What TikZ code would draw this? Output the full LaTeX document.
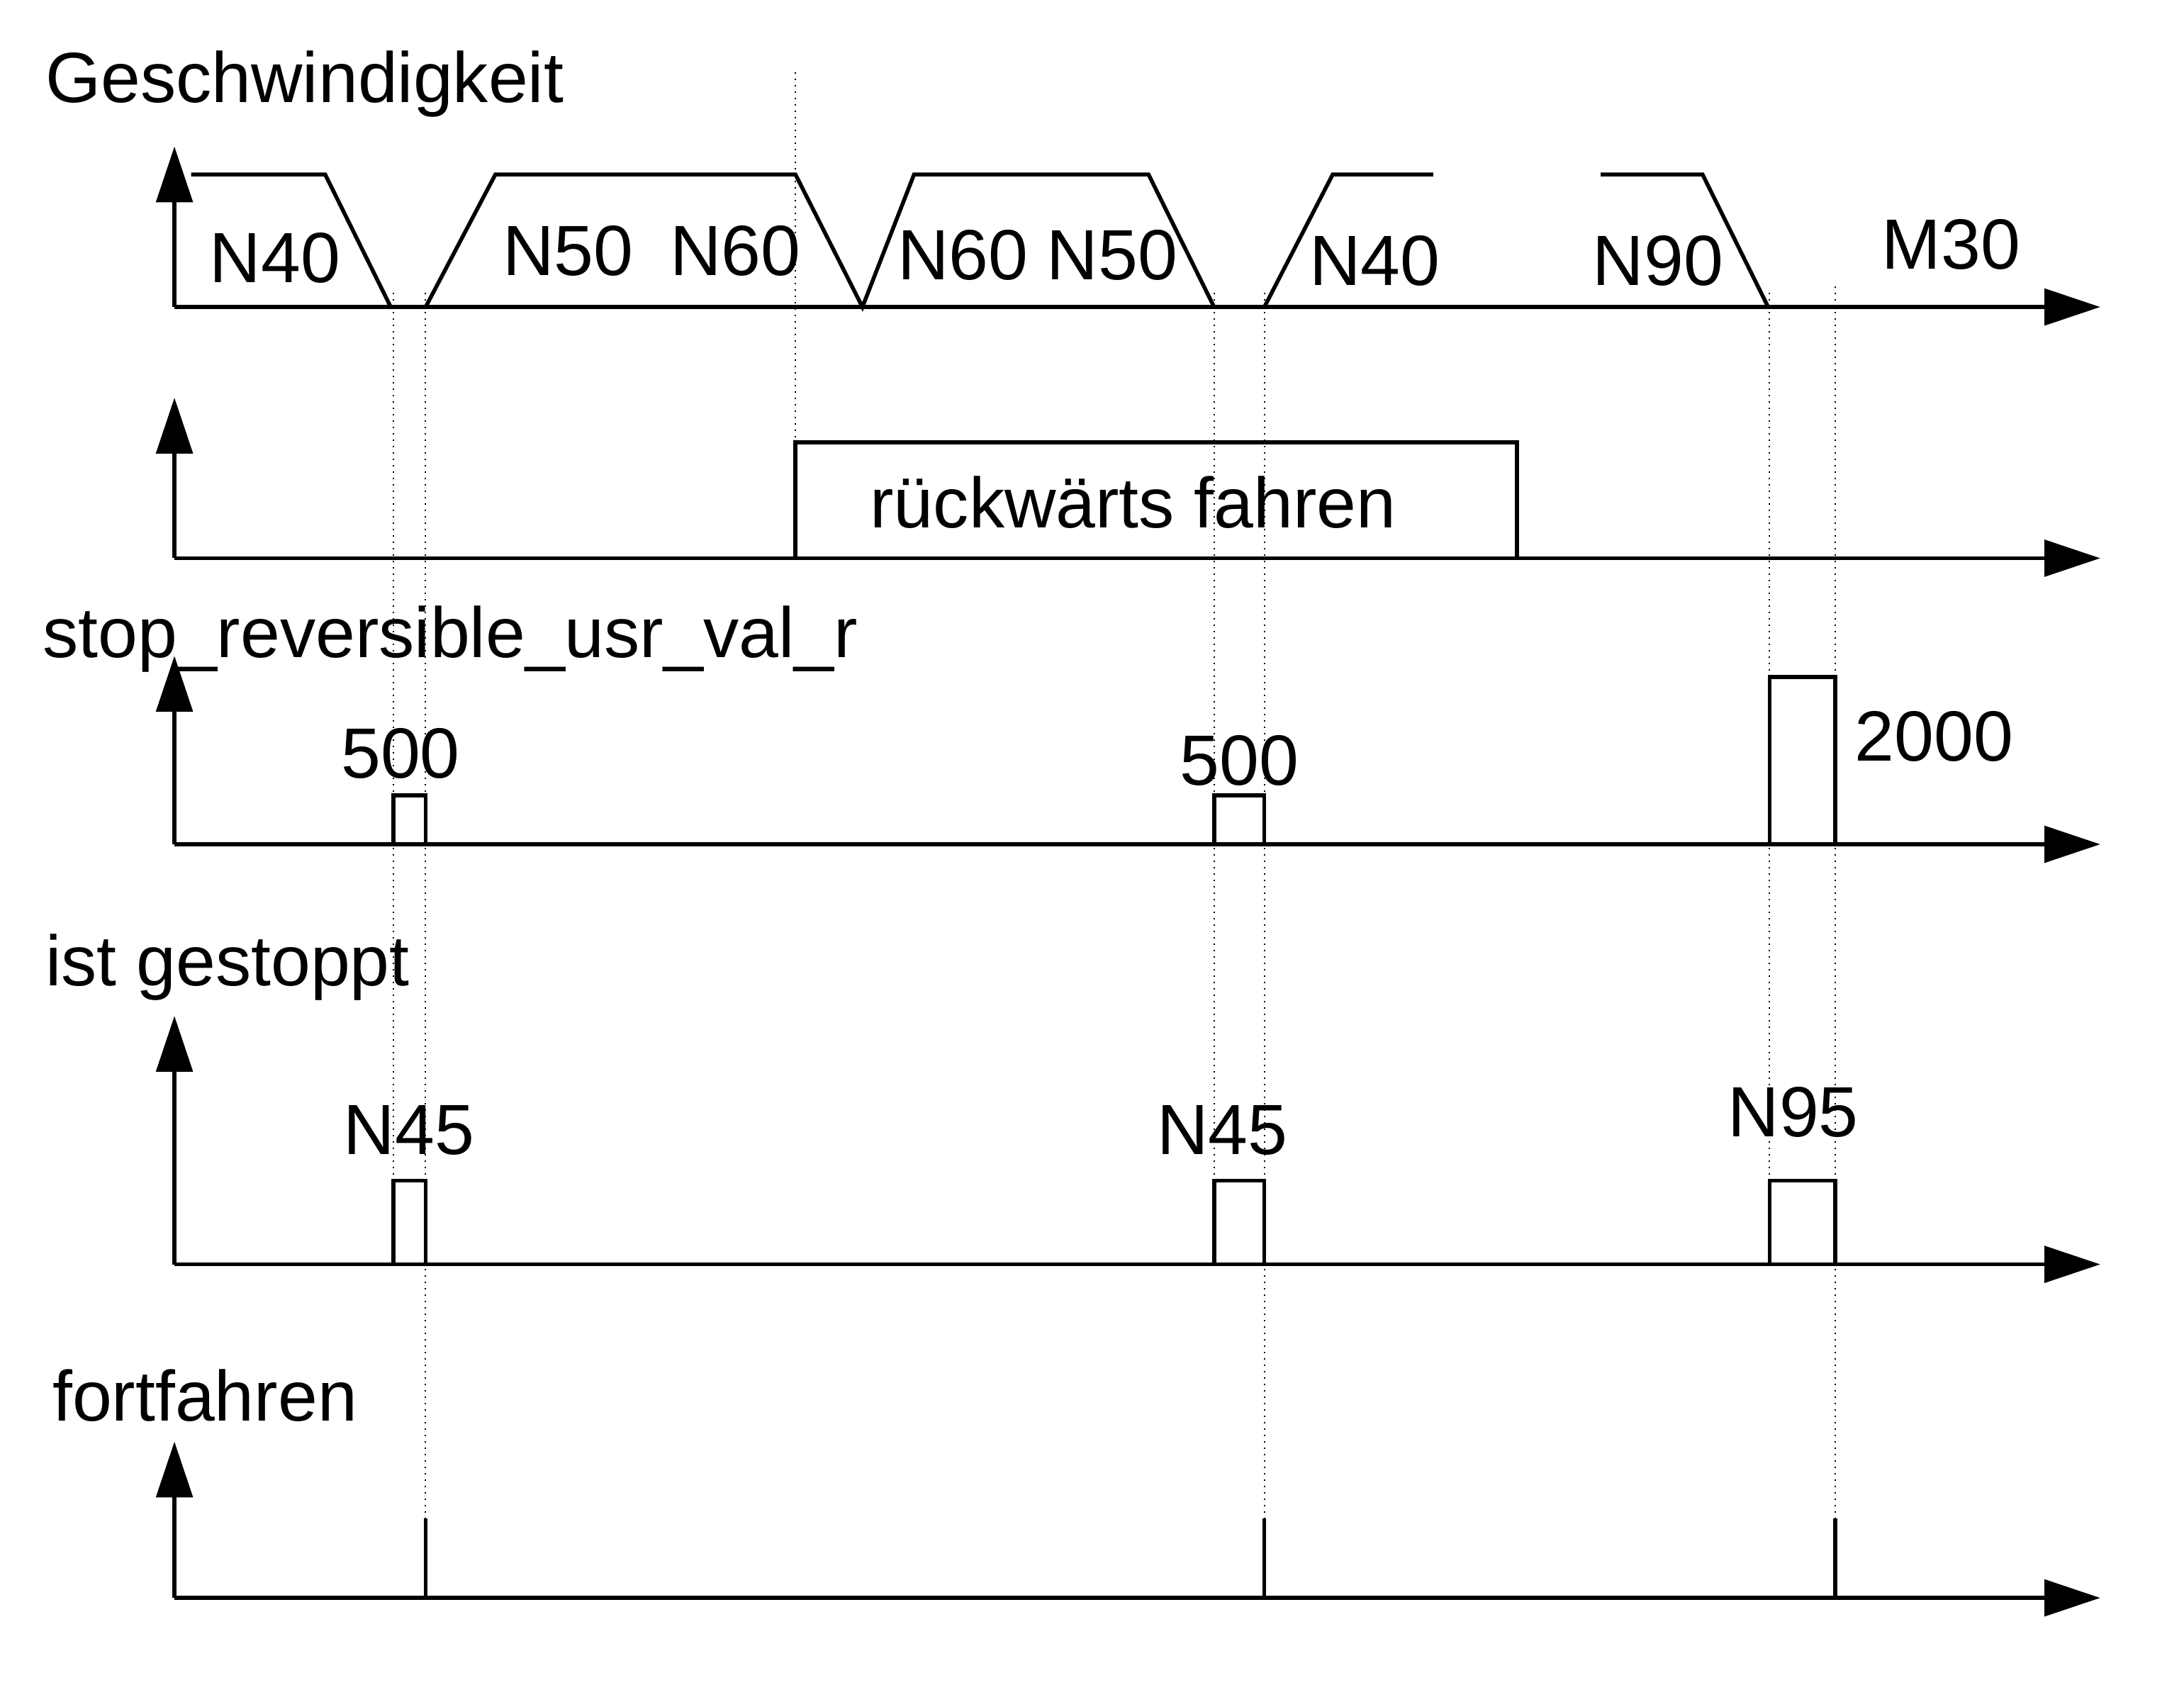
\documentclass[tikz,border=0pt]{standalone}
\usepackage{fontspec}
\setmainfont{Liberation Sans}
\usetikzlibrary{arrows.meta}
\tikzstyle{axis} = [-{Triangle[length=0.4cm,width=0.26cm]},line width=0.8pt]
\tikzstyle{sig} = [line width=0.8pt]
\tikzstyle{guide} = [densely dotted,line width=0.3pt]
\tikzstyle{lbl} = [font=\fontsize{14.5pt}{16pt}\selectfont,inner sep=0pt]
\begin{document}
\begin{tikzpicture}[x=0.01cm,y=-0.01cm]
        \useasboundingbox (0,0) rectangle (1565,1207);
        % axes
        \foreach \b/\t/\n in {220/105/a, 400/285/b, 605/470/c, 906/728/d, 1145/1033/e}{
          \coordinate (o\n) at (125,\b);
          \draw[axis] (o\n) -- (125,\t);
          \draw[axis] (o\n) -- (1505,\b);
        }
        % guides
        \draw[guide] (282,210) -- (282,906);
        \draw[guide] (305,210) -- (305,1145);
        \draw[guide] (570,52) -- (570,400);
        \draw[guide] (870,210) -- (870,906);
        \draw[guide] (906,210) -- (906,1145);
        \draw[guide] (1268,210) -- (1268,906);
        \draw[guide] (1315,205) -- (1315,1145);
        % speed
        \draw[sig] (137,125) -- (233,125) -- (280,220);
        \draw[sig] (305,220) -- (355,125) -- (570,125) -- (618,220) -- (655,125) -- (823,125) -- (870,220);
        \draw[sig] (906,220) -- (955,125) -- (1027,125);
        \draw[sig] (1147,125) -- (1220,125) -- (1267,220);
        % reverse
        \draw[sig] (570,400) -- (570,317) -- (1087,317) -- (1087,400);
        % pulses
        \draw[sig] (282,605) -- (282,570) -- (305,570) -- (305,605);
        \draw[sig] (870,605) -- (870,570) -- (906,570) -- (906,605);
        \draw[sig] (1268,605) -- (1268,485) -- (1315,485) -- (1315,605);
        \draw[sig] (282,906) -- (282,846) -- (305,846) -- (305,906);
        \draw[sig] (870,906) -- (870,846) -- (906,846) -- (906,906);
        \draw[sig] (1268,906) -- (1268,846) -- (1315,846) -- (1315,906);
        \foreach \x in {305,906,1315} \draw[sig] (\x,1088) -- (\x,1145);
        % labels
        \node[lbl,anchor=west] (tv) at (32,60) {Geschwindigkeit};
        \node[lbl] (n40a) at (197,185) {N40};
        \node[lbl] (n50a) at (407,180) {N50};
        \node[lbl] (n60a) at (527,180) {N60};
        \node[lbl] (n60b) at (690,183) {N60};
        \node[lbl] (n50b) at (797,183) {N50};
        \node[lbl] (n40b) at (985,187) {N40};
        \node[lbl] (n90) at (1188,187) {N90};
        \node[lbl] (m30) at (1398,175) {M30};
        \node[lbl] (rw) at (812,360) {rückwärts fahren};
        \node[lbl,anchor=west] (tsr) at (30,458) {stop\_reversible\_usr\_val\_r};
        \node[lbl] (v1) at (287,540) {500};
        \node[lbl] (v2) at (888,545) {500};
        \node[lbl] (v3) at (1386,528) {2000};
        \node[lbl,anchor=west] (tig) at (32,693) {ist gestoppt};
        \node[lbl] (n45a) at (293,810) {N45};
        \node[lbl] (n45b) at (876,810) {N45};
        \node[lbl] (n95) at (1285,797) {N95};
        \node[lbl,anchor=west] (tff) at (37,1000) {fortfahren};
\end{tikzpicture}
\end{document}
